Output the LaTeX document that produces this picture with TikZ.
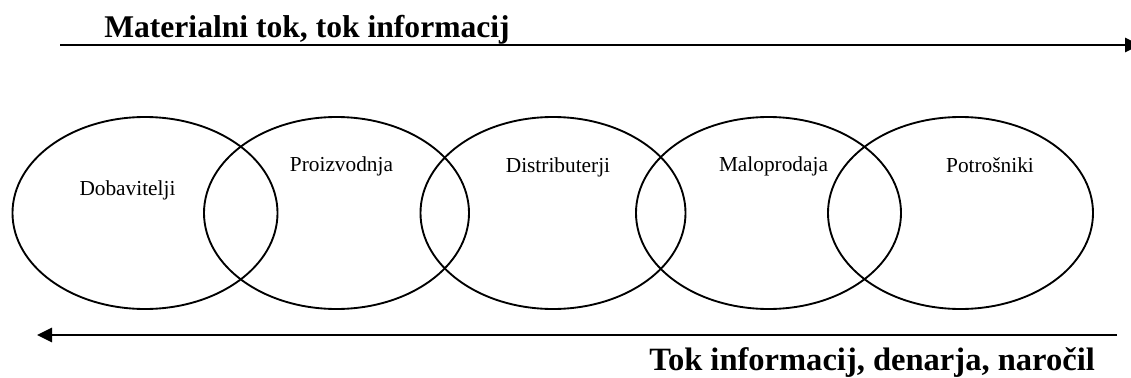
\documentclass[tikz,border=0pt]{standalone}
\usepackage{fontspec}
\setmainfont{Liberation Serif}
\usetikzlibrary{arrows.meta,shapes.geometric}

\begin{document}
\begin{tikzpicture}[x=0.75pt,y=-0.75pt,
  stage/.style={ellipse, draw, line width=1.4pt, minimum width=198.75pt,
    minimum height=144pt, inner sep=0pt},
  stagelabel/.style={anchor=base, font=\fontsize{16}{19}\selectfont, inner sep=0pt},
  flow/.style={line width=2pt, -{Triangle[length=11.25pt,width=10.5pt]}},
  flowlabel/.style={anchor=base west, inner sep=0pt}]

  % page frame
  \clip (0,0) rectangle (1131,378);

  % supply chain stages
  \node[stage] (dob) at (145,213) {};
  \node[stage] (pro) at (336.5,213) {};
  \node[stage] (dis) at (553,213) {};
  \node[stage] (mal) at (768.5,213) {};
  \node[stage] (pot) at (960.5,213) {};

  \node[stagelabel] (ldob) at (127.5,195) {Dobavitelji};
  \node[stagelabel] (lpro) at (341.5,171) {Proizvodnja};
  \node[stagelabel] (ldis) at (558,172) {Distributerji};
  \node[stagelabel] (lmal) at (773.5,171) {Maloprodaja};
  \node[stagelabel] (lpot) at (990,172) {Potrošniki};

  % forward flow
  \coordinate (fs) at (60,45);
  \coordinate (fe) at (1140,45);
  \draw[flow] (fs) -- (fe);
  \node[flowlabel, font=\fontsize{23.7}{28}\selectfont\bfseries] (fwd) at (104,38)
    {Materialni tok, tok informacij};

  % backward flow
  \coordinate (bs) at (1117,335);
  \coordinate (be) at (37,335);
  \draw[flow] (bs) -- (be);
  \node[flowlabel, font=\fontsize{24.4}{28}\selectfont\bfseries] (bwd) at (649,370)
    {Tok informacij, denarja, naročil};
\end{tikzpicture}
\end{document}
